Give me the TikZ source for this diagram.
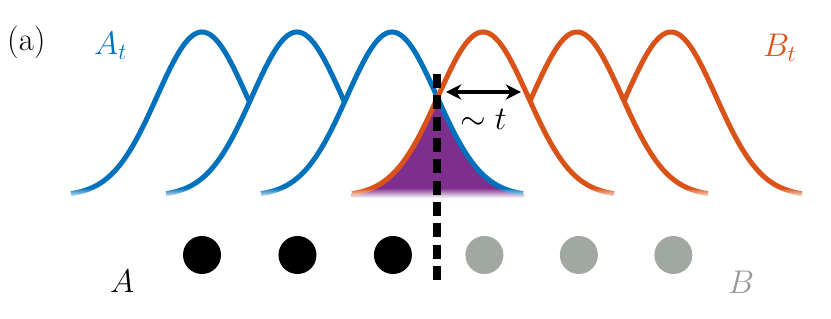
\documentclass[tikz,border=0pt]{standalone}
\usepackage{fix-cm}
\usetikzlibrary{positioning}
\usetikzlibrary{arrows.meta}
\usetikzlibrary{fadings}
\definecolor{mblue}{rgb}{0,0.447,0.741}
\definecolor{morange}{rgb}{0.85,0.325,0.098}
\definecolor{mpurple}{rgb}{0.494,0.184,0.556}
\definecolor{mgrey}{rgb}{0.63,0.66,0.63}
\definecolor{lgrey}{rgb}{0.6,0.6,0.6}
\tikzfading[name=fade bottom, top color=transparent!100, bottom color=transparent!0]

\begin{document}
\begin{tikzpicture}[x=0.03cm, y=0.03cm,
    declare function={gauss(\x,\c)=123+164*exp(-0.5*((\x-\c)/45)^2);},
    wave/.style={line width=4.3pt, samples=60, smooth},
    site/.style={circle, inner sep=0pt, minimum size=1.14cm},
    lbl/.style={font=\fontsize{28}{33}\selectfont, anchor=base west, inner sep=0pt},
    cut/.style={line width=6pt, dash pattern=on 0.42cm off 0.22cm},
    spread/.style={line width=2.8pt, {Stealth[length=13pt,width=13pt]}-{Stealth[length=13pt,width=13pt]}}]
    \useasboundingbox (0,0) rectangle (831,319);

    % overlap of the two middle packets
    \fill[mpurple] (351,121) -- plot[domain=351:437.5, samples=40, smooth] (\x,{gauss(\x,483)})
        -- plot[domain=437.5:524, samples=40, smooth] (\x,{gauss(\x,392)}) -- (524,121) -- cycle;

    \draw[wave, mblue] plot[domain=71:249.5] (\x,{gauss(\x,202)});
    \draw[wave, mblue] plot[domain=166:344.5] (\x,{gauss(\x,297)});
    \draw[wave, mblue] plot[domain=261:523] (\x,{gauss(\x,392)});
    \draw[wave, morange] plot[domain=352:614] (\x,{gauss(\x,483)});
    \draw[wave, morange] plot[domain=530:708] (\x,{gauss(\x,577)});
    \draw[wave, morange] plot[domain=624:802] (\x,{gauss(\x,671)});

    % soft tails
    \fill[white, path fading=fade bottom] (55,121) rectangle (820,131);
    \fill[white] (55,112) rectangle (820,121);

    \coordinate (cut top) at (437,245);
    \coordinate (cut bot) at (437,39);
    \draw[cut] (cut top) -- (cut bot);

    \coordinate (gap l) at (446,227);
    \coordinate (gap r) at (521,227);
    \draw[spread] (gap l) -- (gap r);
    \node[lbl] (tlabel) at (460,189) {$\sim t$};

    \node[lbl] (panel) at (7,268) {(a)};
    \node[lbl, mblue] (At) at (94,264) {$A_t$};
    \node[lbl, morange] (Bt) at (763,262) {$B_t$};
    \node[lbl] (A) at (110,26) {$A$};
    \node[lbl, lgrey] (B) at (728,25) {$B$};

    \node[site, fill=black] (a1) at (202,64) {};
    \node[site, fill=black, right=1.71cm of a1] (a2) {};
    \node[site, fill=black, right=1.71cm of a2] (a3) {};
    \node[site, fill=mgrey, right=1.59cm of a3] (b1) {};
    \node[site, fill=mgrey, right=1.68cm of b1] (b2) {};
    \node[site, fill=mgrey, right=1.68cm of b2] (b3) {};
\end{tikzpicture}
\end{document}
